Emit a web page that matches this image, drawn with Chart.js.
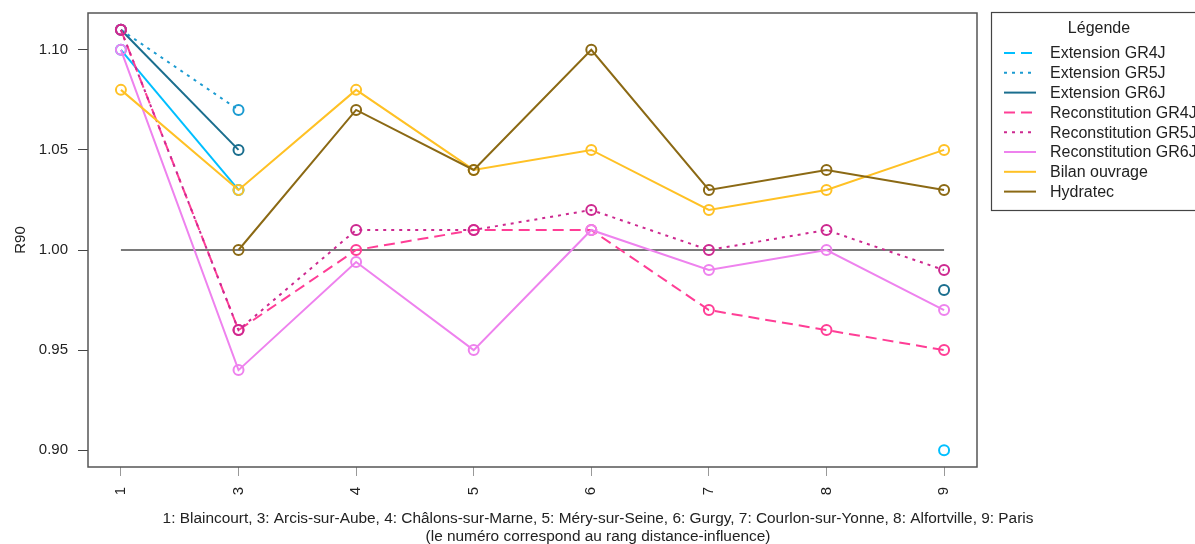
<!DOCTYPE html>
<html lang="fr">
<head>
<meta charset="utf-8">
<title>R90</title>
<script src="https://cdn.jsdelivr.net/npm/chart.js@4.4.1/dist/chart.umd.min.js"></script>
<style>
  html, body { margin: 0; padding: 0; background: #fff; overflow: hidden; }
  #wrap { width: 1195px; height: 544px; position: relative; }
</style>
</head>
<body>
<div id="wrap"><canvas id="r90"></canvas></div>
<script>
// stations, ordered by distance-influence rank
const stations = ["1", "3", "4", "5", "6", "7", "8", "9"];
const yTicks = [0.90, 0.95, 1.00, 1.05, 1.10];
const xTitle = [
  "1: Blaincourt, 3: Arcis-sur-Aube, 4: Châlons-sur-Marne, 5: Méry-sur-Seine, 6: Gurgy, 7: Courlon-sur-Yonne, 8: Alfortville, 9: Paris",
  "(le numéro correspond au rang distance-influence)",
];

const extGR4J = [1.10, 1.03, null, null, null, null, null, 0.90];
const extGR5J = [1.11, 1.07, null, null, null, null, null, null];
const extGR6J = [1.11, 1.05, null, null, null, null, null, 0.98];
const recGR4J = [1.11, 0.96, 1.00, 1.01, 1.01, 0.97, 0.96, 0.95];
const recGR5J = [1.11, 0.96, 1.01, 1.01, 1.02, 1.00, 1.01, 0.99];
const recGR6J = [1.10, 0.94, 0.994, 0.95, 1.01, 0.99, 1.00, 0.97];
const bilanOuvrage = [1.08, 1.03, 1.08, 1.04, 1.05, 1.02, 1.03, 1.05];
const hydratec = [null, 1.00, 1.07, 1.04, 1.10, 1.03, 1.04, 1.03];
const reference = [1, 1, 1, 1, 1, 1, 1, 1];

const DASHED = [11, 6];
const DOTTED = [3, 5];

const toPoints = (values) => values.map((v, i) => ({ x: i + 1, y: v }));

const series = (label, values, color, dash, opts = {}) => ({
  label,
  data: toPoints(values),
  borderColor: color,
  backgroundColor: color,
  borderWidth: 2,
  borderDash: dash,
  pointStyle: "circle",
  pointRadius: 5,
  pointHoverRadius: 5,
  pointBorderWidth: 2,
  pointBorderColor: color,
  pointBackgroundColor: "rgba(0,0,0,0)",
  spanGaps: false,
  tension: 0,
  ...opts,
});

const datasets = [
  // first segment of the GR4J extension is drawn plain
  series("Extension GR4J", extGR4J, "#00BFFF", DASHED, { segment: { borderDash: () => [] }, order: 8 }),
  series("Extension GR5J", extGR5J, "#1B9BD1", DOTTED, { order: 7 }),
  series("Extension GR6J", extGR6J, "#1A6E8E", [], { order: 6 }),
  series("Reconstitution GR4J", recGR4J, "#FF3E96", DASHED, { order: 5 }),
  series("Reconstitution GR5J", recGR5J, "#CD2990", DOTTED, { order: 4 }),
  series("Reconstitution GR6J", recGR6J, "#EE82EE", [], { order: 3 }),
  series("Bilan ouvrage", bilanOuvrage, "#FFC125", [], { order: 2 }),
  series("Hydratec", hydratec, "#8B6914", [], { order: 1 }),
  {
    label: "ref",
    data: toPoints(reference),
    borderColor: "#7a7a7a",
    borderWidth: 2,
    pointRadius: 0,
    order: 9,
    inLegend: false,
  },
];

const FONT = "'Liberation Sans', Arial, sans-serif";

// plot frame, x caption and boxed legend on the right
const frameAndLegend = {
  id: "frameAndLegend",
  afterDraw(chart) {
    const { ctx, chartArea: a } = chart;
    ctx.save();
    ctx.strokeStyle = "#555";
    ctx.lineWidth = 1.5;
    ctx.strokeRect(a.left, a.top, a.right - a.left, a.bottom - a.top);

    ctx.fillStyle = "#222";
    ctx.font = "15.4px " + FONT;
    ctx.textAlign = "center";
    ctx.textBaseline = "middle";
    ctx.fillText(xTitle[0], 598, 519);
    ctx.fillText(xTitle[1], 598, 537);

    const lx = 991, ly = 12;
    ctx.strokeStyle = "#444";
    ctx.lineWidth = 1.2;
    ctx.strokeRect(lx + 0.5, ly + 0.5, 260, 198);

    ctx.font = "16px " + FONT;
    ctx.fillText("Légende", 1099, 29);

    ctx.textAlign = "left";
    let y = 53;
    chart.data.datasets.forEach((ds) => {
      if (ds.inLegend === false) return;
      ctx.beginPath();
      ctx.strokeStyle = ds.borderColor;
      ctx.lineWidth = 2;
      ctx.setLineDash(ds.borderDash || []);
      ctx.moveTo(1004, y);
      ctx.lineTo(1036, y);
      ctx.stroke();
      ctx.setLineDash([]);
      ctx.fillStyle = "#222";
      ctx.fillText(ds.label, 1050, y + 1);
      y += 19.8;
    });
    ctx.restore();
  },
};

new Chart(document.getElementById("r90"), {
  type: "line",
  data: { datasets },
  plugins: [frameAndLegend],
  options: {
    responsive: true,
    maintainAspectRatio: false,
    animation: false,
    layout: { padding: { left: 0, right: 218, top: 13, bottom: 0 } },
    plugins: {
      legend: { display: false },
      tooltip: { enabled: false },
    },
    scales: {
      x: {
        type: "linear",
        min: 0.72,
        max: 8.28,
        afterBuildTicks: (scale) => {
          scale.ticks = stations.map((_, i) => ({ value: i + 1 }));
        },
        afterFit: (scale) => {
          scale.height = 77;
          scale.paddingTop = 0;
        },
        grid: { drawOnChartArea: false, drawTicks: true, tickLength: 9, color: "#999" },
        border: { display: false },
        ticks: {
          autoSkip: false,
          minRotation: 90,
          maxRotation: 90,
          padding: 11,
          color: "#222",
          font: { family: FONT, size: 15 },
          callback: (v) => stations[v - 1],
        },
      },
      y: {
        type: "linear",
        min: 0.8916,
        max: 1.1184,
        afterBuildTicks: (scale) => {
          scale.ticks = yTicks.map((v) => ({ value: v }));
        },
        afterFit: (scale) => {
          scale.width = 88;
          scale.paddingTop = 0;
          scale.paddingBottom = 0;
        },
        grid: { drawOnChartArea: false, drawTicks: true, tickLength: 10, color: "#444" },
        border: { display: false },
        ticks: {
          padding: 10,
          color: "#222",
          font: { family: FONT, size: 15 },
          callback: (v) => v.toFixed(2),
        },
        title: {
          display: true,
          text: "R90",
          color: "#222",
          font: { family: FONT, size: 15, lineHeight: 1.2 },
          padding: { top: 12, bottom: 0 },
        },
      },
    },
  },
});
</script>
</body>
</html>
